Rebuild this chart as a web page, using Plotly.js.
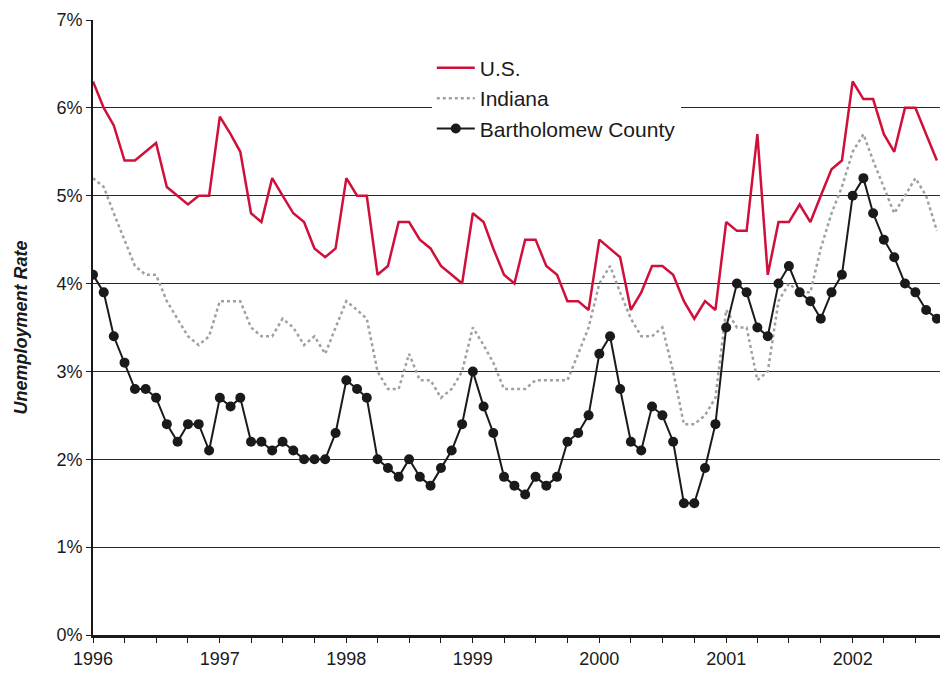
<!DOCTYPE html>
<html>
<head>
<meta charset="utf-8">
<script src="https://cdn.plot.ly/plotly-3.0.1.min.js"></script>
<style>html,body{margin:0;padding:0;background:#fff;}#chart{width:940px;height:674px;}</style>
</head>
<body>
<div id="chart"></div>
<script>
// Monthly data, January 1996 through September 2002
const startYear = 1996;
const monthCount = 81;

const usRate = [6.3,6.0,5.8,5.4,5.4,5.5,5.6,5.1,5.0,4.9,5.0,5.0,
                5.9,5.7,5.5,4.8,4.7,5.2,5.0,4.8,4.7,4.4,4.3,4.4,
                5.2,5.0,5.0,4.1,4.2,4.7,4.7,4.5,4.4,4.2,4.1,4.0,
                4.8,4.7,4.4,4.1,4.0,4.5,4.5,4.2,4.1,3.8,3.8,3.7,
                4.5,4.4,4.3,3.7,3.9,4.2,4.2,4.1,3.8,3.6,3.8,3.7,
                4.7,4.6,4.6,5.7,4.1,4.7,4.7,4.9,4.7,5.0,5.3,5.4,
                6.3,6.1,6.1,5.7,5.5,6.0,6.0,5.7,5.4];

const indianaRate = [5.2,5.1,4.8,4.5,4.2,4.1,4.1,3.8,3.6,3.4,3.3,3.4,
                     3.8,3.8,3.8,3.5,3.4,3.4,3.6,3.5,3.3,3.4,3.2,3.5,
                     3.8,3.7,3.6,3.0,2.8,2.8,3.2,2.9,2.9,2.7,2.8,3.0,
                     3.5,3.3,3.1,2.8,2.8,2.8,2.9,2.9,2.9,2.9,3.2,3.5,
                     4.0,4.2,3.9,3.6,3.4,3.4,3.5,3.0,2.4,2.4,2.5,2.7,
                     3.7,3.5,3.5,2.9,3.0,3.8,4.0,3.9,3.9,4.4,4.8,5.1,
                     5.5,5.7,5.4,5.1,4.8,5.0,5.2,5.0,4.6];

const bartholomewRate = [4.1,3.9,3.4,3.1,2.8,2.8,2.7,2.4,2.2,2.4,2.4,2.1,
                         2.7,2.6,2.7,2.2,2.2,2.1,2.2,2.1,2.0,2.0,2.0,2.3,
                         2.9,2.8,2.7,2.0,1.9,1.8,2.0,1.8,1.7,1.9,2.1,2.4,
                         3.0,2.6,2.3,1.8,1.7,1.6,1.8,1.7,1.8,2.2,2.3,2.5,
                         3.2,3.4,2.8,2.2,2.1,2.6,2.5,2.2,1.5,1.5,1.9,2.4,
                         3.5,4.0,3.9,3.5,3.4,4.0,4.2,3.9,3.8,3.6,3.9,4.1,
                         5.0,5.2,4.8,4.5,4.3,4.0,3.9,3.7,3.6];

const seriesNames = ['U.S.', 'Indiana', 'Bartholomew County'];
const yearLabels = ['1996','1997','1998','1999','2000','2001','2002'];

function pad(n){ return (n < 10 ? '0' : '') + n; }
const months = [];
for (let i = 0; i < monthCount; i++) {
  const y = startYear + Math.floor(i / 12);
  const m = (i % 12) + 1;
  months.push(y + '-' + pad(m) + '-01');
}
// quarterly ticks, labelled at each year
const tickVals = [], tickText = [];
for (let i = 0; i < monthCount; i += 3) {
  tickVals.push(months[i]);
  tickText.push(i % 12 === 0 ? yearLabels[i / 12] : '');
}

const fontFam = '"Liberation Sans Narrow", "Arial Narrow", "Liberation Sans", Arial, sans-serif';

const traces = [
  {x: months, y: usRate, name: seriesNames[0], type: 'scatter', mode: 'lines',
   line: {color: '#d0103a', width: 2.5}},
  {x: months, y: indianaRate, name: seriesNames[1], type: 'scatter', mode: 'lines',
   line: {color: '#a0a0a0', width: 2.5, dash: 'dot'}},
  {x: months, y: bartholomewRate, name: seriesNames[2], type: 'scatter', mode: 'lines+markers',
   line: {color: '#1a1a1a', width: 2}, marker: {color: '#1a1a1a', size: 10}}
];

const layout = {
  width: 940, height: 674,
  margin: {l: 93, r: 0, t: 20, b: 39, pad: 0},
  paper_bgcolor: '#fff', plot_bgcolor: '#fff',
  font: {family: fontFam, size: 17, color: '#1a1a1a'},
  showlegend: true,
  legend: {x: 0.400, y: 0.955, xanchor: 'left', yanchor: 'top',
           bgcolor: '#fff', borderwidth: 0, font: {family: fontFam, size: 21, color: '#1a1a1a'},
           tracegroupgap: 0, itemwidth: 38},
  xaxis: {type: 'date', range: ['1996-01-01', '2002-09-10'],
          tickmode: 'array', tickvals: tickVals, ticktext: tickText,
          ticks: 'outside', ticklen: 5, tickwidth: 1, tickcolor: '#1a1a1a',
          showgrid: false, zeroline: false,
          showline: true, linecolor: '#1a1a1a', linewidth: 3,
          tickfont: {family: fontFam, size: 18, color: '#1a1a1a'}, fixedrange: true},
  yaxis: {range: [0, 7], dtick: 1, tick0: 0, ticksuffix: '%',
          ticks: 'outside', ticklen: 5, tickwidth: 1, tickcolor: '#1a1a1a',
          showgrid: true, gridcolor: '#2a2a2a', gridwidth: 1,
          zeroline: false, showline: true, linecolor: '#1a1a1a', linewidth: 2,
          tickfont: {family: fontFam, size: 18, color: '#1a1a1a'},
          title: {text: '<b><i>Unemployment Rate</i></b>', standoff: 24,
                  font: {family: '"Liberation Sans", Arial, sans-serif', size: 18, color: '#1a1a1a'}},
          fixedrange: true}
};

Plotly.newPlot('chart', traces, layout, {displayModeBar: false, staticPlot: true});
</script>
</body>
</html>
